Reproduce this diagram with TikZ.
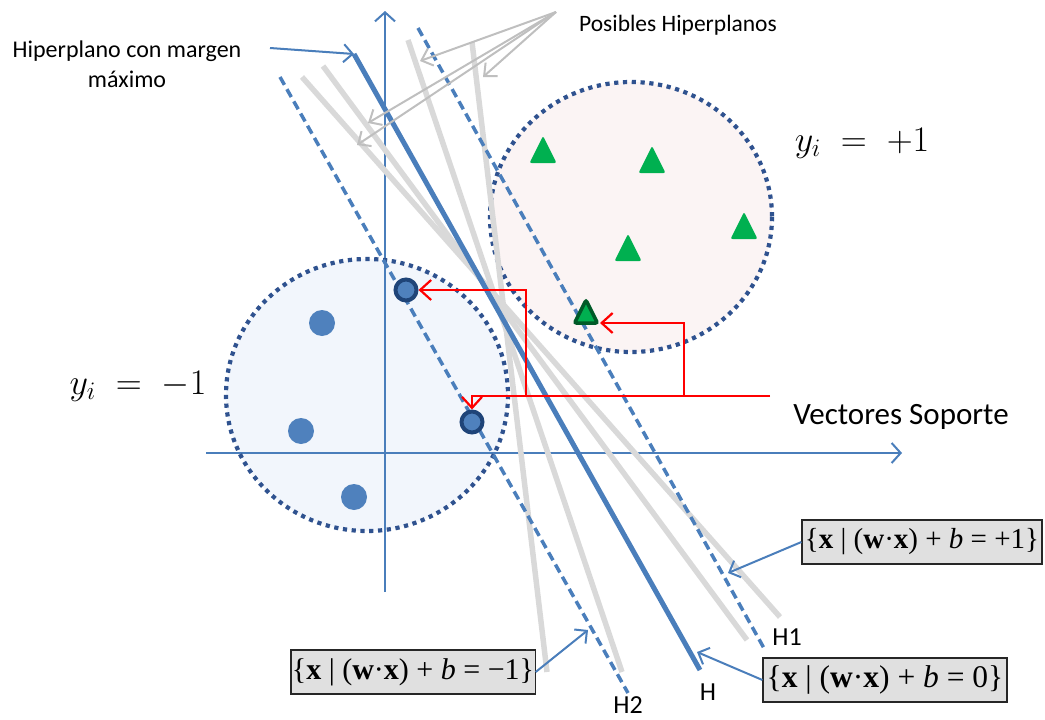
\documentclass[tikz,border=0pt]{standalone}
\usepackage{fix-cm}
\usepackage[no-math]{fontspec}
\setmainfont{Carlito}
\newfontfamily\eqfont{Liberation Serif}
\usetikzlibrary{arrows.meta}
\definecolor{axisblue}{RGB}{74,126,187}
\definecolor{dotblue}{RGB}{79,129,189}
\definecolor{svnavy}{RGB}{31,68,120}
\definecolor{rimblue}{RGB}{47,82,143}
\definecolor{negfill}{RGB}{242,246,252}
\definecolor{posfill}{RGB}{251,244,244}
\definecolor{posgreen}{RGB}{0,176,80}
\definecolor{svgreen}{RGB}{0,90,40}
\definecolor{hypgray}{RGB}{217,217,217}
\definecolor{tipgray}{RGB}{191,191,191}
\definecolor{boxgray}{RGB}{224,224,224}

\begin{document}
\begin{tikzpicture}[
    x=1pt,y=-1pt,
    classrim/.style={draw=rimblue,line width=4.2pt,dash pattern=on 4.2pt off 4.6pt},
    other/.style={draw=hypgray,line width=5.5pt},
    margin/.style={draw=axisblue,line width=3.5pt,dash pattern=on 9pt off 5pt},
    best/.style={draw=axisblue,line width=5pt},
    axis/.style={draw=axisblue,line width=2pt,-{Straight Barb[length=9pt,width=20pt]}},
    arrow/.style={draw=axisblue,line width=2pt,-{Straight Barb[length=9pt,width=18pt]}},
    grayarrow/.style={draw=tipgray,line width=2pt,-{Straight Barb[length=10pt,width=18pt]}},
    redarrow/.style={draw=red,line width=2.2pt,-{Straight Barb[length=11pt,width=20pt]}},
    dot/.style={circle,fill=dotblue,inner sep=0pt,minimum size=26pt},
    sv/.style={circle,fill=dotblue,draw=svnavy,line width=4pt,inner sep=0pt,minimum size=21pt},
    eqbox/.style={draw=black!85,line width=1.2pt,fill=boxgray,inner sep=1pt,
      minimum height=44pt,font=\eqfont},
    lbl/.style={font=\fontsize{26}{30}\selectfont,inner sep=1pt},
    tri/.pic={\path[pic actions,rounded corners=2pt] (-13.5,13) -- (13.5,13) -- (0,-14) -- cycle;}
  ]
    \useasboundingbox (0,0) rectangle (1045,720);

    % the two classes
    \path[fill=negfill] (367,395) ellipse [x radius=141,y radius=136];
    \path[fill=posfill] (631,217) ellipse [x radius=141,y radius=135];

    % axes
    \draw[axis] (385,592) -- (385,11);
    \draw[axis] (206,453) -- (902,453);

    \path[classrim] (367,395) ellipse [x radius=141,y radius=136];
    \path[classrim] (631,217) ellipse [x radius=141,y radius=135];

    % possible hyperplanes
    \coordinate (g1a) at (302,77);  \coordinate (g1b) at (780,617);
    \coordinate (g2a) at (323,66);  \coordinate (g2b) at (747,640);
    \coordinate (g3a) at (408,40);  \coordinate (g3b) at (622,672);
    \coordinate (g4a) at (472,42);  \coordinate (g4b) at (547,672);
    \draw[other] (g1a) -- (g1b);
    \draw[other] (g2a) -- (g2b);
    \draw[other] (g3a) -- (g3b);
    \draw[other] (g4a) -- (g4b);

    % H, H1, H2
    \coordinate (Ha) at (354,54);   \coordinate (Hb) at (700,670);
    \coordinate (H1a) at (418,28);  \coordinate (H1b) at (765,650);
    \coordinate (H2a) at (280,77);  \coordinate (H2b) at (628,693);
    \draw[margin] (H2a) -- (H2b);
    \draw[margin] (H1a) -- (H1b);
    \draw[best] (Ha) -- (Hb);

    % samples
    \node[dot] (n1) at (322,323) {};
    \node[dot] (n2) at (301,431) {};
    \node[dot] (n3) at (354,497) {};
    \node[sv] (sv1) at (406,290) {};
    \node[sv] (sv2) at (472,422) {};
    \pic[fill=posgreen] at (543,150) {tri};
    \pic[fill=posgreen] at (652,160) {tri};
    \pic[fill=posgreen] at (744,226) {tri};
    \pic[fill=posgreen] at (628,248) {tri};
    \coordinate (sv3) at (586,312);
    \pic[fill=posgreen,draw=svgreen,line width=3.5pt,scale=0.85] at (sv3) {tri};

    % labels
    \node[font=\fontsize{24}{30}\selectfont,align=center] (hipLbl) at (127,64) {Hiperplano con margen\\máximo};
    \node[font=\fontsize{23.5}{28}\selectfont] (posLbl) at (678,25) {Posibles Hiperplanos};
    \node[font=\fontsize{31}{36}\selectfont] (vsLbl) at (901,417) {Vectores Soporte};
    \node[font=\fontsize{36}{40}\selectfont] (yPos) at (862,143) {$y_i \;=\; +1$};
    \node[font=\fontsize{36}{40}\selectfont] (yNeg) at (138,386) {$y_i \;=\; -1$};
    \node[lbl] (lblH) at (708,692) {H};
    \node[lbl] (lblH1) at (787,637) {H1};
    \node[lbl] (lblH2) at (628,705) {H2};

    \node[eqbox,minimum width=240pt,font=\eqfont\fontsize{29}{32}\selectfont] (boxP) at (922,542)
      {\{\textbf{x} | (\textbf{w}·\textbf{x}) + \textit{b} = +1\}};
    \node[eqbox,minimum width=244pt,font=\eqfont\fontsize{31.5}{34}\selectfont] (boxZ) at (885,680)
      {\{\textbf{x} | (\textbf{w}·\textbf{x}) + \textit{b} = 0\}};
    \node[eqbox,minimum width=241pt,font=\eqfont\fontsize{30}{33}\selectfont] (boxN) at (413,672)
      {\{\textbf{x} | (\textbf{w}·\textbf{x}) + \textit{b} = −1\}};

    % pointers
    \coordinate (hipSrc) at (270,48);
    \draw[arrow] (hipSrc) -- (Ha);
    \draw[arrow] (boxP.west) -- (728,573);
    \draw[arrow] (boxZ.west) -- (697,652);
    \draw[arrow] (boxN.east) -- (588,630);

    \coordinate (posSrc) at (556,12);
    \draw[grayarrow] (posSrc) -- (420,61);
    \draw[grayarrow] (posSrc) -- (483,77);
    \draw[grayarrow] (posSrc) -- (368,123);
    \draw[grayarrow] (posSrc) -- (357,145);

    \coordinate (vsSrc) at (770,396);
    \draw[redarrow] (vsSrc) -- (sv2 |- vsSrc) -- (sv2.north);
    \draw[redarrow] (526,396) |- (sv1.east);
    \draw[redarrow] (684,396) |- (600,323);
  \end{tikzpicture}
\end{document}
